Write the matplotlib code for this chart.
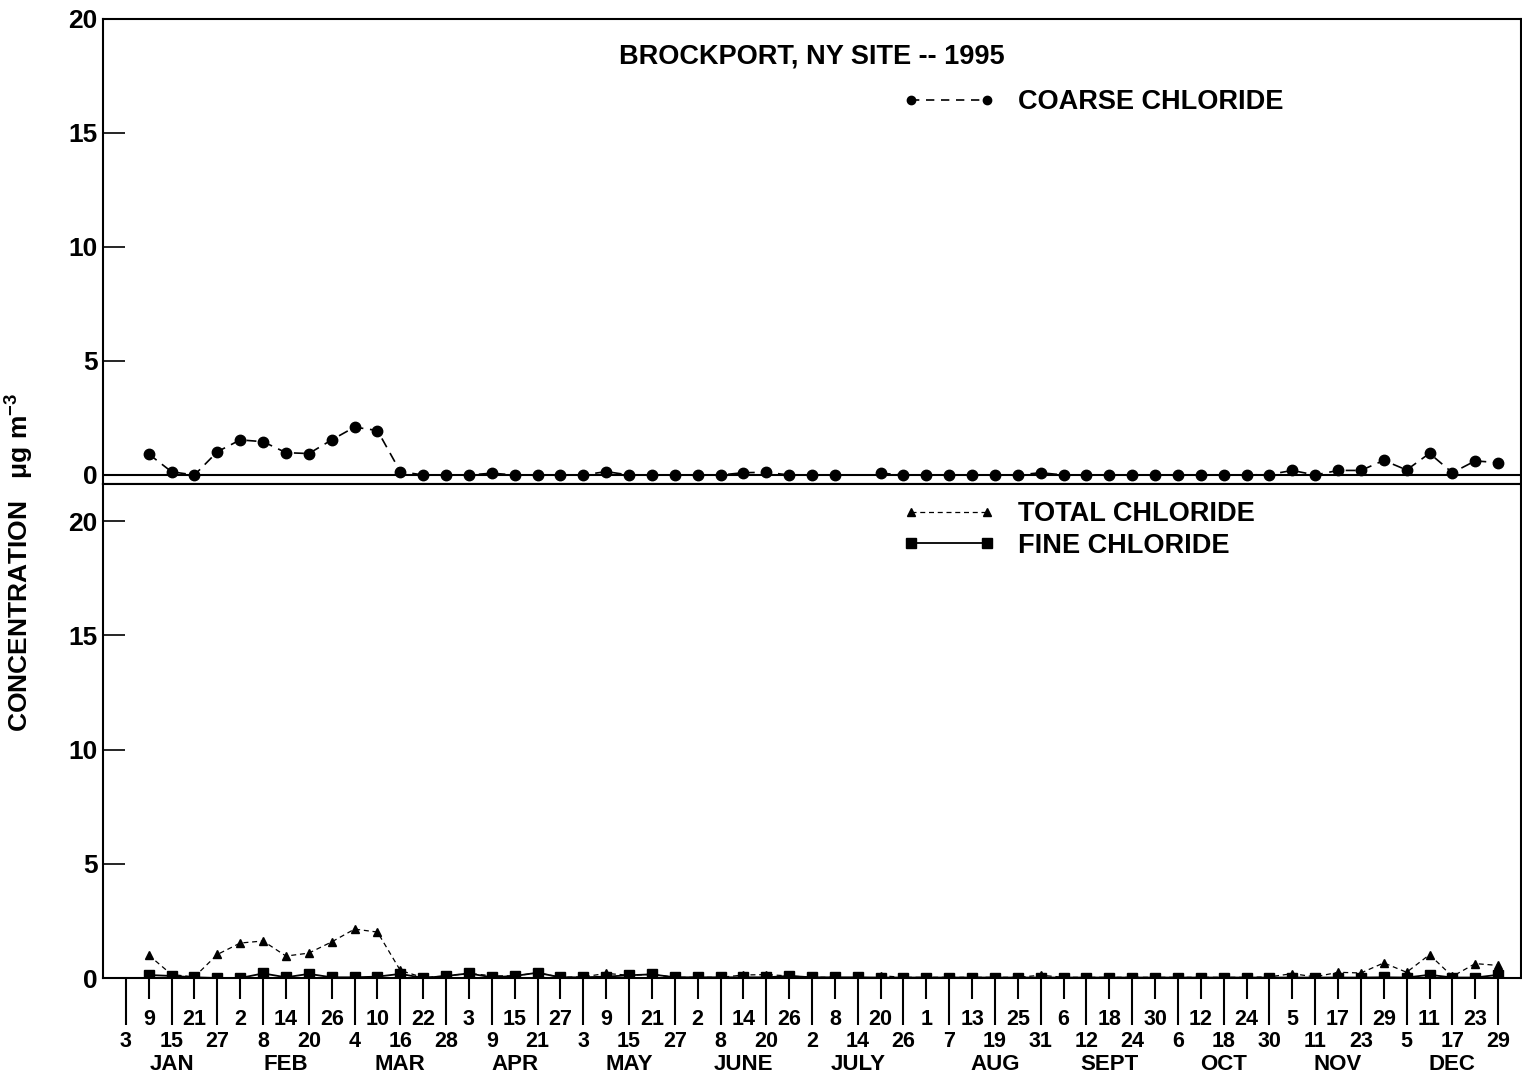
import matplotlib
matplotlib.use('Agg')
import matplotlib.pyplot as plt
import matplotlib.transforms as mtransforms
from matplotlib.lines import Line2D
import numpy as np

plt.rcParams['font.family'] = ['Liberation Sans', 'DejaVu Sans']
plt.rcParams['font.weight'] = 'bold'
plt.rcParams['mathtext.fontset'] = 'custom'
plt.rcParams['mathtext.rm'] = 'Liberation Sans:bold'
plt.rcParams['mathtext.bf'] = 'Liberation Sans:bold'
plt.rcParams['mathtext.it'] = 'Liberation Sans:bold'

# ---------------- data ----------------
# sampling days (day of year 1995), every sixth day from Jan 3 to Dec 29
sample_days = np.arange(3, 364, 6)

day_labels = ["3", "9", "15", "21", "27",
              "2", "8", "14", "20", "26",
              "4", "10", "16", "22", "28",
              "3", "9", "15", "21", "27",
              "3", "9", "15", "21", "27",
              "2", "8", "14", "20", "26",
              "2", "8", "14", "20", "26",
              "1", "7", "13", "19", "25", "31",
              "6", "12", "18", "24", "30",
              "6", "12", "18", "24", "30",
              "5", "11", "17", "23", "29",
              "5", "11", "17", "23", "29"]

month_names = ["JAN", "FEB", "MAR", "APR", "MAY", "JUNE",
               "JULY", "AUG", "SEPT", "OCT", "NOV", "DEC"]
month_label_days = [15, 45, 75, 105, 135, 165, 195, 231, 261, 291, 321, 351]

nan = np.nan
coarse = [nan, 0.92, 0.14, 0.00, 1.02, 1.54, 1.46, 0.98, 0.94, 1.54,
          2.10, 1.95, 0.15, 0.00, 0.00, 0.00, 0.08, 0.00, 0.00, 0.00,
          0.00, 0.15, 0.00, 0.00, 0.00, 0.00, 0.00, 0.10, 0.12, 0.00,
          0.00, 0.00, nan, 0.08, 0.00, 0.00, 0.00, 0.00, 0.00, 0.00,
          0.10, 0.00, 0.00, 0.00, 0.00, 0.00, 0.00, 0.00, 0.00, 0.00,
          0.02, 0.20, 0.00, 0.20, 0.20, 0.64, 0.22, 0.95, 0.10, 0.62,
          0.54]

total = [nan, 1.00, 0.15, 0.05, 1.03, 1.53, 1.62, 0.96, 1.09, 1.58,
         2.14, 2.01, 0.33, 0.02, 0.09, 0.20, 0.10, 0.09, 0.23, 0.03,
         0.05, 0.20, 0.12, 0.16, 0.03, 0.03, 0.03, 0.13, 0.15, 0.09,
         0.03, 0.03, nan, 0.10, 0.03, 0.03, 0.03, 0.03, 0.03, 0.03,
         0.12, 0.03, 0.03, 0.03, 0.03, 0.03, 0.03, 0.03, 0.03, 0.03,
         0.05, 0.19, 0.05, 0.25, 0.22, 0.66, 0.25, 1.02, 0.07, 0.63,
         0.55]

fine = [nan, 0.13, 0.09, 0.03, 0.00, 0.00, 0.20, 0.03, 0.18, 0.03,
        0.03, 0.06, 0.18, 0.00, 0.09, 0.20, 0.03, 0.09, 0.23, 0.03,
        0.03, 0.06, 0.12, 0.16, 0.03, 0.03, 0.03, 0.03, 0.03, 0.09,
        0.03, 0.03, 0.03, 0.02, 0.02, 0.02, 0.02, 0.02, 0.02, 0.02,
        0.02, 0.02, 0.02, 0.02, 0.02, 0.02, 0.02, 0.02, 0.02, 0.02,
        0.02, 0.02, 0.02, 0.02, 0.02, 0.03, 0.02, 0.14, 0.02, 0.02,
        0.14]

title_text = "BROCKPORT, NY SITE -- 1995"
ylabel_text = r"CONCENTRATION   $\mu$g m$^{-3}$"

# ---------------- layout ----------------
W, H = 1522, 1078
fig = plt.figure(figsize=(W / 100, H / 100), dpi=100)
ax1 = fig.add_axes([103 / W, 1 - 484 / H, 1418 / W, 465 / H])
ax2 = fig.add_axes([103 / W, 1 - 978 / H, 1418 / W, 494 / H])

xlim = (-3, 369)
for ax in (ax1, ax2):
    ax.set_xlim(*xlim)
    for s in ax.spines.values():
        s.set_linewidth(1.5)
        s.set_color('black')
    ax.set_yticks([0, 5, 10, 15, 20])
    ax.tick_params(axis='y', direction='in', length=16, width=1.2,
                   labelsize=19, pad=4, right=False)
    for lab in ax.get_yticklabels():
        lab.set_fontweight('bold')

ax1.set_ylim(-0.395, 20)
ax2.set_ylim(0, 21.62)

# top panel: coarse chloride
ax1.axhline(0, color='black', lw=1.5, zorder=1)
ax1.plot(sample_days, coarse, color='black', lw=1.2, ls=(0, (6, 4)),
         marker='o', markersize=7.5, zorder=3)
ax1.set_xticks([])

# bottom panel: total and fine chloride
ax2.plot(sample_days, total, color='black', lw=0.9, ls=(0, (4, 3)),
         marker='^', markersize=5.5, zorder=3)
ax2.plot(sample_days, fine, color='black', lw=1.3, ls='-',
         marker='s', markersize=7.5, zorder=4)

major_idx = list(range(0, len(sample_days), 2))
minor_idx = list(range(1, len(sample_days), 2))
ax2.set_xticks([sample_days[i] for i in major_idx],
               labels=[day_labels[i] for i in major_idx])
ax2.set_xticks([sample_days[i] for i in minor_idx],
               labels=[day_labels[i] for i in minor_idx], minor=True)
ax2.tick_params(axis='x', which='major', direction='out', length=34,
                width=1.5, labelsize=15.5, pad=4.5)
ax2.tick_params(axis='x', which='minor', direction='out', length=15,
                width=1.5, labelsize=15.5, pad=7)
for lab in ax2.get_xticklabels(which='both'):
    lab.set_fontweight('bold')

trans = mtransforms.blended_transform_factory(ax2.transData, ax2.transAxes)
for d, name in zip(month_label_days, month_names):
    ax2.text(d, -0.176, name, transform=trans, ha='center', va='center',
             fontsize=16, fontweight='bold')

# title
ax1.text(0.5, 1 - (57 - 19) / 465, title_text, transform=ax1.transAxes,
         ha='center', va='center', fontsize=19.5, fontweight='bold')

# y label
fig.text(20 / W, 1 - 562 / H, ylabel_text, rotation=90, ha='center',
         va='center', fontsize=19, fontweight='bold')

# legends
leg_prop = dict(weight='bold', size=19.5)
h_coarse = Line2D([], [], color='black', lw=1.2, ls=(0, (5, 4)),
                  marker='o', markersize=6)
ax1.legend(handles=[h_coarse], labels=["COARSE CHLORIDE"], numpoints=2,
           frameon=False, handlelength=3.4, handletextpad=0.85,
           loc='center left', bbox_to_anchor=(903 / W, 1 - 102 / H),
           bbox_transform=fig.transFigure, borderpad=0, borderaxespad=0,
           prop=leg_prop)

h_total = Line2D([], [], color='black', lw=0.9, ls=(0, (4, 3)),
                 marker='^', markersize=5.5)
h_fine = Line2D([], [], color='black', lw=1.3, ls='-',
                marker='s', markersize=7.5)
ax2.legend(handles=[h_total, h_fine], labels=["TOTAL CHLORIDE", "FINE CHLORIDE"],
           numpoints=2, frameon=False, handlelength=3.4, handletextpad=0.85,
           labelspacing=0.2, loc='center left',
           bbox_to_anchor=(903 / W, 1 - 530 / H),
           bbox_transform=fig.transFigure, borderpad=0, borderaxespad=0,
           prop=leg_prop)

fig.savefig('out.png', dpi=100)
